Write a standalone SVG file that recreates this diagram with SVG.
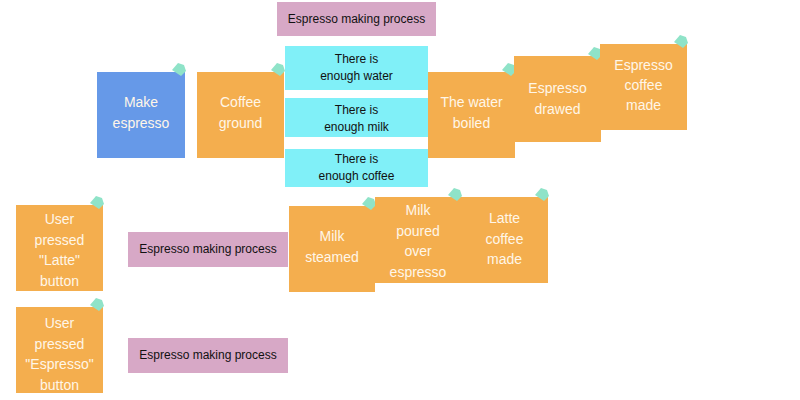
<svg xmlns="http://www.w3.org/2000/svg" width="800" height="400" viewBox="0 0 800 400">
<style>
.o{fill:#F4AE4E}.b{fill:#6699E8}.c{fill:#80F0F8}.p{fill:#D7A8C6}
.pin{fill:#8FE3C8}
.w{font-family:"Liberation Sans",Arial,sans-serif;font-size:14px;fill:#FFF6E8;text-anchor:middle}
.k{font-family:"Liberation Sans",Arial,sans-serif;font-size:12px;fill:#111;text-anchor:middle}
</style>
<defs><path id="pin" class="pin" d="M-7,0 L-1,-7 L5,-5 L7,1 L2,6 Z"/></defs>
<rect width="800" height="400" fill="#fff"/>
<g id="title"><rect class="p" x="277" y="2" width="159" height="34"/><text class="k" x="356.5" y="23">Espresso making process</text></g>
<g id="make"><rect class="b" x="97" y="72" width="88" height="86"/><use href="#pin" x="179" y="70"/><text class="w" x="141" y="107">Make</text><text class="w" x="141" y="128">espresso</text></g>
<g id="ground"><rect class="o" x="197" y="72" width="87" height="86"/><use href="#pin" x="278" y="70"/><text class="w" x="240.5" y="107">Coffee</text><text class="w" x="240.5" y="128">ground</text></g>
<g id="water"><rect class="c" x="285" y="46" width="143" height="44"/><text class="k" x="356.5" y="63">There is</text><text class="k" x="356.5" y="80">enough water</text></g>
<g id="milk"><rect class="c" x="285" y="98" width="143" height="39"/><text class="k" x="356.5" y="114">There is</text><text class="k" x="356.5" y="131">enough milk</text></g>
<g id="coffee"><rect class="c" x="285" y="149" width="143" height="38"/><text class="k" x="356.5" y="163">There is</text><text class="k" x="356.5" y="180">enough coffee</text></g>
<g id="boiled"><rect class="o" x="428" y="72" width="87" height="86"/><use href="#pin" x="509" y="70"/><text class="w" x="471.5" y="107">The water</text><text class="w" x="471.5" y="128">boiled</text></g>
<g id="drawed"><rect class="o" x="514" y="56" width="87" height="86"/><use href="#pin" x="595" y="54"/><text class="w" x="557.5" y="93">Espresso</text><text class="w" x="557.5" y="114">drawed</text></g>
<g id="made"><rect class="o" x="600" y="44" width="87" height="86"/><use href="#pin" x="681" y="42"/><text class="w" x="643.5" y="70">Espresso</text><text class="w" x="643.5" y="90">coffee</text><text class="w" x="643.5" y="110">made</text></g>
<g id="latteBtn"><rect class="o" x="16" y="205" width="87" height="86"/><use href="#pin" x="97" y="203"/><text class="w" x="59.5" y="224">User</text><text class="w" x="59.5" y="245">pressed</text><text class="w" x="59.5" y="265">"Latte"</text><text class="w" x="59.5" y="286">button</text></g>
<g id="p2"><rect class="p" x="128" y="232" width="160" height="35"/><text class="k" x="208" y="253">Espresso making process</text></g>
<g id="steamed"><rect class="o" x="289" y="206" width="86" height="86"/><use href="#pin" x="369" y="204"/><text class="w" x="332" y="241">Milk</text><text class="w" x="332" y="262">steamed</text></g>
<g id="poured"><rect class="o" x="375" y="197" width="86" height="86"/><use href="#pin" x="455" y="195"/><text class="w" x="418" y="215">Milk</text><text class="w" x="418" y="236">poured</text><text class="w" x="418" y="256">over</text><text class="w" x="418" y="277">espresso</text></g>
<g id="latte"><rect class="o" x="461" y="197" width="87" height="86"/><use href="#pin" x="542" y="195"/><text class="w" x="504.5" y="223">Latte</text><text class="w" x="504.5" y="244">coffee</text><text class="w" x="504.5" y="264">made</text></g>
<g id="espBtn"><rect class="o" x="16" y="307" width="87" height="86"/><use href="#pin" x="97" y="305"/><text class="w" x="59.5" y="328">User</text><text class="w" x="59.5" y="349">pressed</text><text class="w" x="59.5" y="369">"Espresso"</text><text class="w" x="59.5" y="390">button</text></g>
<g id="p3"><rect class="p" x="128" y="338" width="160" height="35"/><text class="k" x="208" y="359">Espresso making process</text></g>
<g id="connectors"/>
</svg>
